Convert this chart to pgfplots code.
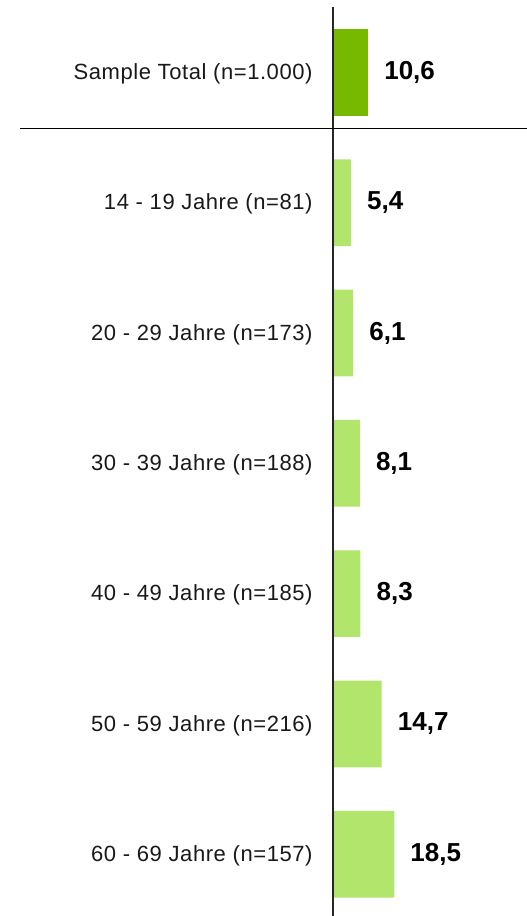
\documentclass[border=0pt]{standalone}
\usepackage{pgfplots}
\pgfplotsset{compat=1.18}
\usepackage{fontspec}
\setmainfont{Liberation Sans}
\definecolor{totalgreen}{HTML}{77B900}
\definecolor{agegreen}{HTML}{B2E56C}

\begin{document}
\begin{tikzpicture}
\begin{axis}[
  xbar, bar width=86.7pt, bar shift=0pt,
  scale only axis, width=527pt, height=916pt,
  xmin=-100.6, xmax=58.6,
  y dir=reverse, ymin=-0.5557, ymax=6.474,
  axis line style={draw=none},
  xtick=\empty,
  ytick={0,...,6}, ytick style={draw=none},
  yticklabels={Sample Total (n=1.000),14 - 19 Jahre (n=81),20 - 29 Jahre (n=173),
    30 - 39 Jahre (n=188),40 - 49 Jahre (n=185),50 - 59 Jahre (n=216),60 - 69 Jahre (n=157)},
  yticklabel style={anchor=east, inner sep=0pt, xshift=317pt, yshift=-1.5pt,
    font=\fontsize{22}{26}\selectfont\addfontfeatures{LetterSpace=2.6}, text=black!90},
  nodes near coords,
  every node near coord/.append style={anchor=west, inner sep=0pt, xshift=16pt,
    font=\fontsize{26}{31}\selectfont\bfseries, text=black,
    /pgf/number format/.cd, fixed, fixed zerofill, precision=1, use comma,
    assume math mode=true},
  clip=false,
]
\addplot[fill=totalgreen, draw=none] coordinates {(10.6,0)};
\addplot[fill=agegreen, draw=none] coordinates {(5.4,1) (6.1,2) (8.1,3) (8.3,4) (14.7,5) (18.5,6)};
\draw[black!85, line width=1.2pt] (axis cs:0,-0.502) -- (axis cs:0,6.474);
\draw[black, line width=1.4pt] (axis cs:-94.6,0.429) -- (axis cs:58.6,0.429);
\end{axis}
\pgfresetboundingbox
\useasboundingbox (current axis.south west) rectangle (current axis.north east);
\end{tikzpicture}
\end{document}
